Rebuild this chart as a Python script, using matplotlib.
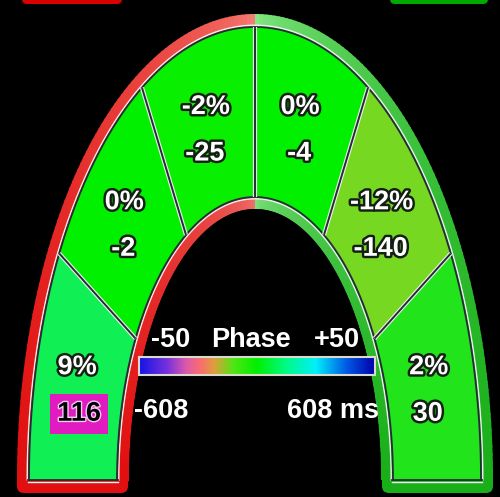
import numpy as np
import matplotlib
matplotlib.use("Agg")
import matplotlib.pyplot as plt
from matplotlib.patches import Polygon, FancyBboxPatch, Rectangle
from matplotlib.colors import LinearSegmentedColormap
import matplotlib.patheffects as pe

# ---- data ----
segment_pct = [9, 0, -2, 0, -12, 2]          # left leg -> right leg
segment_vals = [116, -2, -25, -4, -140, 30]
segment_colors = ['#10f055', '#00f000', '#08f000', '#00f000', '#77d822', '#22e41a']
highlight = [True, False, False, False, False, False]
phase_min, phase_max = -50, 50
ms_min, ms_max = -608, 608

# ---- geometry ----
CX, CY = 255, 480
A_OE, B_OE = 238, 466   # outer border edge
A_SO, B_SO = 226, 453   # segments outer
A_SI, B_SI = 138, 283   # segments inner
A_H, B_H = 126, 271     # hole

fig = plt.figure(figsize=(5.0, 4.97), dpi=100, facecolor='black')
ax = fig.add_axes([0, 0, 1, 1])
ax.set_xlim(0, 500)
ax.set_ylim(497, 0)
ax.axis('off')
ax.set_facecolor('black')

def ell(a, b, t):
    t = np.radians(t)
    return CX + a * np.cos(t), CY - b * np.sin(t)

def lerp(c1, c2, f):
    return tuple((np.array(c1) + (np.array(c2) - np.array(c1)) * f) / 255.0)

# top tabs
ax.add_patch(FancyBboxPatch((22, -10), 100, 14, boxstyle="round,pad=0,rounding_size=5",
                            fc=(0.85, 0.0, 0.0), ec='none'))
ax.add_patch(FancyBboxPatch((390, -10), 98, 14, boxstyle="round,pad=0,rounding_size=5",
                            fc=(0.0, 0.66, 0.0), ec='none'))

# bottom caps of the legs
red_b = (225, 15, 15)
green_b = (25, 175, 25)
ax.add_patch(FancyBboxPatch((17, 466), 111, 27, boxstyle="round,pad=0,rounding_size=7",
                            fc=tuple(np.array(red_b) / 255), ec='none'))
ax.add_patch(FancyBboxPatch((382, 466), 111, 27, boxstyle="round,pad=0,rounding_size=7",
                            fc=tuple(np.array(green_b) / 255), ec='none'))

def border_color(t, inner=False):
    if t >= 90:
        f = ((t - 90) / 90) ** 0.5
        top = (240, 120, 115) if inner else (245, 135, 125)
        return lerp(top, red_b, f)
    else:
        f = ((90 - t) / 90) ** 0.5
        top = (130, 228, 130) if inner else (140, 235, 140)
        return lerp(top, green_b, f)

def ring(a1, b1, a2, b2, inner):
    n = 180
    ts = np.linspace(0, 180, n + 1)
    for i in range(n):
        t0, t1 = ts[i], ts[i + 1] + 0.3
        tt = np.linspace(t0, t1, 4)
        xo, yo = ell(a1, b1, tt)
        xi, yi = ell(a2, b2, tt[::-1])
        pts = np.column_stack([np.r_[xo, xi], np.r_[yo, yi]])
        ax.add_patch(Polygon(pts, closed=True, fc=border_color((t0 + t1) / 2, inner),
                             ec='none', antialiased=True))

ring(A_OE, B_OE, A_SO - 1, B_SO - 1, False)
ring(A_SI + 1, B_SI + 1, A_H, B_H, True)
# hole to black
th = np.linspace(0, 180, 200)
hx, hy = ell(A_H, B_H, th)
ax.add_patch(Polygon(np.column_stack([np.r_[hx, CX - A_H], np.r_[hy, 500]]), closed=True,
                     fc='black', ec='none'))
ax.add_patch(Rectangle((CX - A_H, CY - 1), 2 * A_H, 30, fc='black', ec='none'))

# segments
n_seg = len(segment_pct)
edges = np.linspace(180, 0, n_seg + 1)
dark = (0.15, 0.17, 0.22)
white = (0.93, 0.95, 0.93)
for i in range(n_seg):
    t0, t1 = edges[i], edges[i + 1]
    tt = np.linspace(t0, t1, 60)
    xo, yo = ell(A_SO, B_SO, tt)
    xi, yi = ell(A_SI, B_SI, tt[::-1])
    pts = np.column_stack([np.r_[xo, xi], np.r_[yo, yi]])
    ax.add_patch(Polygon(pts, closed=True, fc=segment_colors[i], ec='none'))

# boundary lines
tt = np.linspace(0, 180, 400)
x, y = ell(A_SO + 1.8, B_SO + 1.8, tt)
ax.plot(x, y, color=white, lw=1.0)
x, y = ell(A_SO, B_SO, tt)
ax.plot(x, y, color=dark, lw=1.3)
x, y = ell(A_SI - 1.8, B_SI - 1.8, tt)
ax.plot(x, y, color=white, lw=1.0)
x, y = ell(A_SI, B_SI, tt)
ax.plot(x, y, color=dark, lw=1.3)
# leg bottoms
for sgn in (-1, 1):
    xs = [CX + sgn * (A_SI - 1), CX + sgn * (A_SO + 1)]
    ax.plot(xs, [CY + 2, CY + 2], color=white, lw=1.0)
    ax.plot(xs, [CY, CY], color=dark, lw=1.3)
# dividers
for t in edges[1:-1]:
    xo, yo = ell(A_SO, B_SO, t)
    xi, yi = ell(A_SI, B_SI, t)
    ax.plot([xo, xi], [yo, yi], color=white, lw=3.0, solid_capstyle='butt')
    ax.plot([xo, xi], [yo, yi], color=dark, lw=1.4, solid_capstyle='butt')

# labels
font = dict(family='Liberation Sans', weight='bold', fontsize=19.5)
stroke = [pe.withStroke(linewidth=3.5, foreground=(0.08, 0.12, 0.08))]
A_M, B_M = (A_SO + A_SI) / 2, (B_SO + B_SI) / 2
for i in range(n_seg):
    tm = (edges[i] + edges[i + 1]) / 2
    mx, my = ell(A_M, B_M, tm)
    ax.text(mx - 2, my - 17.5, f"{segment_pct[i]}%", color='white', ha='center', va='center',
            path_effects=stroke, **font)
    if highlight[i]:
        ax.text(mx, my + 29, f"{segment_vals[i]}", color='black', ha='center', va='center',
                path_effects=[pe.withStroke(linewidth=2.0, foreground=(0.95, 0.8, 0.95))],
                bbox=dict(boxstyle='square,pad=0.25', fc='#e01cc0', ec='none'), **font)
    else:
        ax.text(mx - 3, my + 29, f"{segment_vals[i]}", color='white', ha='center', va='center',
                path_effects=stroke, **font)

# colorbar
cmap = LinearSegmentedColormap.from_list('phase', [
    (0.0, (20/255, 20/255, 230/255)),
    (0.12, (120/255, 50/255, 220/255)),
    (0.2, (220/255, 90/255, 170/255)),
    (0.26, (250/255, 110/255, 110/255)),
    (0.32, (220/255, 160/255, 60/255)),
    (0.4, (80/255, 230/255, 20/255)),
    (0.5, (0/255, 240/255, 0/255)),
    (0.62, (0/255, 250/255, 130/255)),
    (0.75, (0/255, 240/255, 250/255)),
    (0.88, (0/255, 90/255, 230/255)),
    (1.0, (0/255, 0/255, 170/255)),
])
grad = np.linspace(phase_min, phase_max, 256).reshape(1, -1)
ax.imshow(grad, cmap=cmap, extent=[139, 375, 375, 357], aspect='auto',
          vmin=phase_min, vmax=phase_max, zorder=3)
ax.add_patch(Rectangle((139, 357), 236, 18, fc='none', ec=(0.85, 0.85, 0.8), lw=1.5, zorder=4))
cfont = dict(family='Liberation Sans', weight='bold', fontsize=19.5, color='white')
ax.text(171, 340, f"{phase_min}", ha='center', va='center', **cfont)
ax.text(251, 340, "Phase", ha='center', va='center', **cfont)
ax.text(337, 340, f"+{phase_max}", ha='center', va='center', **cfont)
ax.text(134, 411, f"{ms_min}", ha='left', va='center', **cfont)
ax.text(379, 411, f"{ms_max} ms", ha='right', va='center', **cfont)

fig.savefig('out.png', dpi=100, facecolor='black')
